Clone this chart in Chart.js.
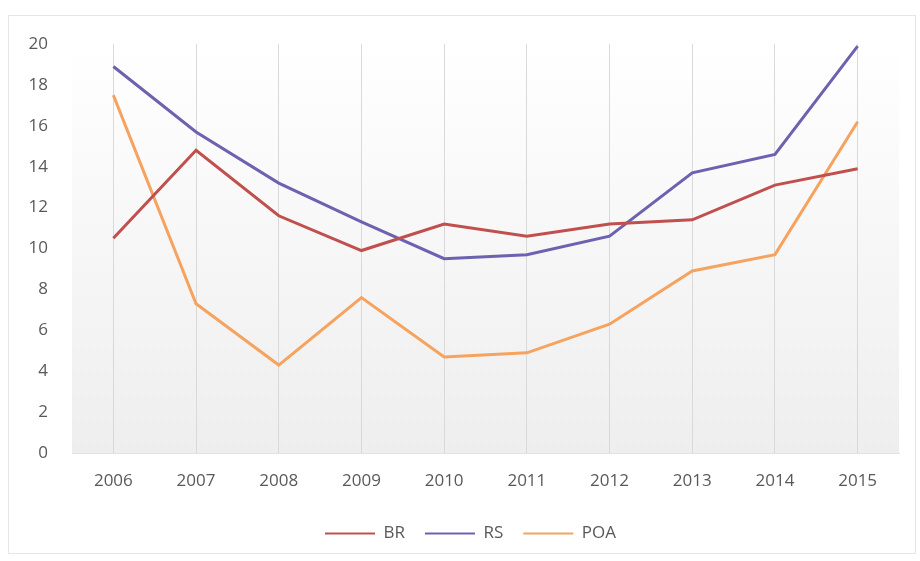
<!DOCTYPE html>
<html>
<head>
<meta charset="utf-8">
<script src="https://cdn.jsdelivr.net/npm/chart.js@4"></script>
<style>
  html, body { margin: 0; padding: 0; background: #fff; }
  #wrap { position: relative; width: 920px; height: 561px; }
  #card { position: absolute; left: 8px; top: 15px; width: 908px; height: 539px; border: 1px solid #e6e6e6; box-sizing: border-box; }
  #myChart { position: absolute; left: 0; top: 0; }
</style>
</head>
<body>
<div id="wrap">
  <div id="card"></div>
  <canvas id="myChart" width="920" height="561"></canvas>
</div>
<script>
const anos = ['2006', '2007', '2008', '2009', '2010', '2011', '2012', '2013', '2014', '2015'];
const br  = [10.5, 14.8, 11.6, 9.9, 11.2, 10.6, 11.2, 11.4, 13.1, 13.9];
const rs  = [18.9, 15.7, 13.2, 11.3, 9.5, 9.7, 10.6, 13.7, 14.6, 19.9];
const poa = [17.5, 7.3, 4.3, 7.6, 4.7, 4.9, 6.3, 8.9, 9.7, 16.2];
const yTicks = [0, 2, 4, 6, 8, 10, 12, 14, 16, 18, 20];

const fonte = { family: 'Open Sans', size: 17 };

// fundo degradê da área do gráfico
const fundo = {
    id: 'fundo',
    beforeDraw(chart) {
        const { ctx, chartArea } = chart;
        const g = ctx.createLinearGradient(0, chartArea.top, 0, chartArea.bottom);
        g.addColorStop(0, '#ffffff');
        g.addColorStop(1, '#eeeeee');
        ctx.save();
        ctx.fillStyle = g;
        ctx.fillRect(chartArea.left, chartArea.top, chartArea.width, chartArea.height);
        ctx.restore();
    }
};

// legenda um pouco deslocada para a direita
const moveLegenda = {
    id: 'moveLegenda',
    afterLayout(chart) {
        chart.legend.left += 21;
        chart.legend.right += 21;
    }
};

const serie = (label, data, cor) => ({
    label: label,
    data: data,
    borderColor: cor,
    backgroundColor: cor,
    borderWidth: 3,
    pointRadius: 0,
    tension: 0
});

new Chart(document.getElementById('myChart'), {
    type: 'line',
    data: {
        labels: anos,
        datasets: [
            serie('BR', br, '#c0504d'),
            serie('RS', rs, '#6c62b0'),
            serie('POA', poa, '#f5a35e')
        ]
    },
    options: {
        responsive: false,
        animation: false,
        layout: { padding: { left: 0, right: 21, top: 44, bottom: 9 } },
        plugins: {
            tooltip: { enabled: false },
            legend: {
                position: 'bottom',
                labels: {
                    boxWidth: 50,
                    boxHeight: 2,
                    padding: 20,
                    color: '#595959',
                    font: fonte,
                    generateLabels(chart) {
                        const itens = Chart.defaults.plugins.legend.labels.generateLabels(chart);
                        itens.forEach(i => { i.lineWidth = 0; });
                        return itens;
                    }
                }
            }
        },
        scales: {
            x: {
                offset: true,
                afterFit(scale) { scale.height = 52; },
                grid: { offset: false, color: '#d9d9d9', drawTicks: false },
                border: { color: '#e2e2e2' },
                ticks: { padding: 18, color: '#595959', font: fonte }
            },
            y: {
                min: 0,
                max: 20,
                afterFit(scale) { scale.width = 72; },
                afterBuildTicks(scale) { scale.ticks = yTicks.map(v => ({ value: v })); },
                grid: { display: false, drawTicks: false },
                border: { display: false },
                ticks: { padding: 24, color: '#595959', font: fonte }
            }
        }
    },
    plugins: [fundo, moveLegenda]
});
</script>
</body>
</html>
